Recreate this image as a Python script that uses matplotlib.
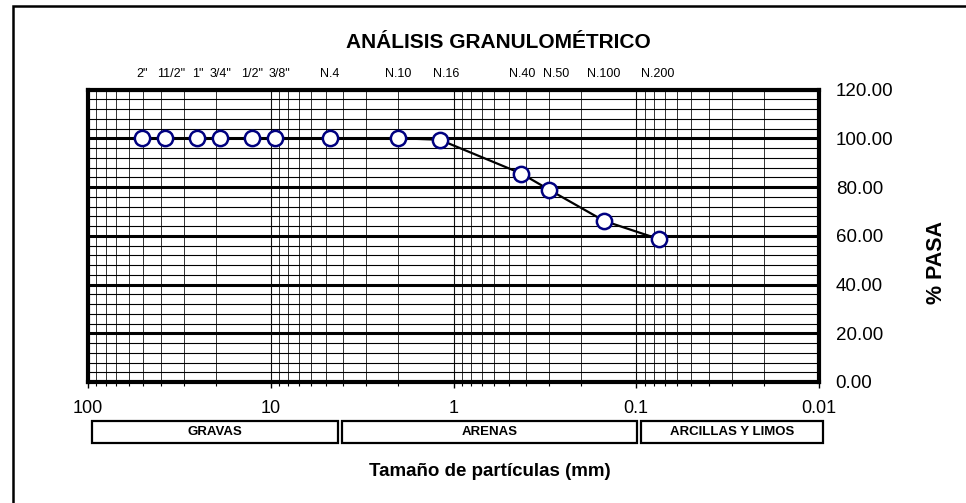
import matplotlib
matplotlib.use("Agg")
import matplotlib.pyplot as plt
import matplotlib.ticker as mticker
import matplotlib.transforms as mtransforms
from matplotlib.patches import Rectangle

plt.rcParams['font.family'] = ['Liberation Sans', 'DejaVu Sans']

# Sieve openings (mm) and percent passing
sieve_labels = ['2"', '11/2"', '1"', '3/4"', '1/2"', '3/8"', 'N.4', 'N.10', 'N.16',
                'N.40', 'N.50', 'N.100', 'N.200']
sieve_mm = [50.8, 38.1, 25.4, 19.05, 12.7, 9.525, 4.76, 2.0, 1.19, 0.425, 0.30, 0.15, 0.075]
pct_passing = [100.0, 100.0, 100.0, 100.0, 100.0, 100.0, 100.0, 100.0, 99.4,
               85.5, 78.9, 66.1, 58.6]

decade_ticks = [100, 10, 1, 0.1, 0.01]
decade_labels = ['100', '10', '1', '0.1', '0.01']

soil_classes = ['GRAVAS', 'ARENAS', 'ARCILLAS Y LIMOS']

# horizontal nudges (pixels) so neighbouring sieve names don't collide
label_nudge_px = [0, 6.5, 1.5, 0.5, 0, 4.5, 0, 0, 6, 0.5, 7.5, 0, -1.5]

W, H = 966, 503
fig = plt.figure(figsize=(W / 100, H / 100), dpi=100)


def fx(px):
    return px / W


def fy(py):
    return 1 - py / H


ax = fig.add_axes([fx(88), fy(382), fx(819) - fx(88), fy(89.5) - fy(382)])
ax.set_xscale('log')
ax.set_xlim(100, 0.01)
ax.set_ylim(0, 120)

# grid: log minor lines on x, heavy lines every 20 % and light every 4 % on y
ax.xaxis.set_major_locator(mticker.FixedLocator(decade_ticks))
ax.xaxis.set_major_formatter(mticker.FixedFormatter(decade_labels))
ax.xaxis.set_minor_locator(mticker.LogLocator(base=10, subs=range(2, 10), numticks=20))
ax.xaxis.set_minor_formatter(mticker.NullFormatter())
ax.yaxis.set_major_locator(mticker.MultipleLocator(20))
ax.yaxis.set_minor_locator(mticker.MultipleLocator(4))
ax.yaxis.set_major_formatter(mticker.FormatStrFormatter('%.2f'))

ax.set_axisbelow(True)
ax.grid(True, which='major', axis='x', color='#111111', lw=0.8)
ax.grid(True, which='minor', axis='x', color='#333333', lw=0.7)
ax.grid(True, which='major', axis='y', color='black', lw=2.2)
ax.grid(True, which='minor', axis='y', color='black', lw=0.8)

for s in ax.spines.values():
    s.set_linewidth(3.0)
    s.set_color('black')

ax.yaxis.tick_right()
ax.tick_params(axis='y', which='both', length=0, pad=12, labelsize=13.5)
ax.tick_params(axis='x', which='major', direction='out', length=4, width=1, pad=9, labelsize=13)
ax.tick_params(axis='x', which='minor', direction='out', length=3, width=0.8)

ax.plot(sieve_mm, pct_passing, color='black', lw=1.6, marker='o', markersize=11,
        markerfacecolor='white', markeredgecolor='#000080', markeredgewidth=1.8,
        zorder=5, clip_on=False)

# sieve names along the top
top_tr = mtransforms.blended_transform_factory(ax.transData, fig.transFigure)
for lab, x, dx in zip(sieve_labels, sieve_mm, label_nudge_px):
    tr = top_tr + mtransforms.ScaledTranslation(dx / 100, 0, fig.dpi_scale_trans)
    ax.text(x, fy(74), lab, transform=tr, ha='center', va='center',
            fontsize=9, clip_on=False)

fig.text(fx(498), fy(43), 'ANÁLISIS GRANULOMÉTRICO', ha='center', va='center',
         fontsize=15, fontweight='bold')
fig.text(fx(936), fy(263), '% PASA', rotation=90, ha='center', va='center',
         fontsize=15.5, fontweight='bold')
fig.text(fx(490), fy(472), 'Tamaño de partículas (mm)', ha='center', va='center',
         fontsize=13.5, fontweight='bold')

# soil classification bands under the axis
band_edges = [(91.7, 338.3), (342.3, 636.7), (640.7, 822.7)]
band_top, band_bot = 421, 443
for name, (x0, x1) in zip(soil_classes, band_edges):
    fig.add_artist(Rectangle((fx(x0), fy(band_bot)), fx(x1) - fx(x0), fy(band_top) - fy(band_bot),
                             transform=fig.transFigure, fill=False, lw=1.6, ec='black'))
    fig.text(fx((x0 + x1) / 2), fy((band_top + band_bot) / 2), name, ha='center', va='center',
             fontsize=9.5, fontweight='bold')

# outer frame
fig.add_artist(Rectangle((fx(13.3), fy(520)), fx(1000) - fx(13.3), fy(6) - fy(520),
                         transform=fig.transFigure, fill=False, lw=1.8, ec='black',
                         clip_on=False))

fig.savefig('out.png', dpi=100)
